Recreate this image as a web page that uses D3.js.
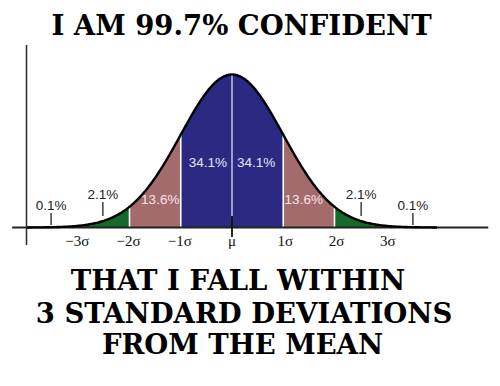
<!DOCTYPE html>
<html><head><meta charset="utf-8">
<script src="https://cdn.jsdelivr.net/npm/d3@7"></script>
<style>html,body{margin:0;padding:0;background:#fff;}svg{display:block;}</style>
</head><body>
<svg id="c" width="500" height="386"></svg>
<script>
// ---- data ----
const bandEdges = [-4, -3, -2, -1, 0, 1, 2, 3, 4];           // in sigma units
const bandKinds = ["tail", "tail", "two", "one", "one", "two", "tail", "tail"];
const pctLabels = ["0.1%", "2.1%", "13.6%", "34.1%", "34.1%", "13.6%", "2.1%", "0.1%"];
const pctPos = [-3.53, -2.52, -1.4, -0.47, 0.47, 1.4, 2.52, 3.53];
const tickValues = [-3, -2, -1, 0, 1, 2, 3];
const tickLabels = ["\u22123\u03c3", "\u22122\u03c3", "\u22121\u03c3", "\u03bc", "1\u03c3", "2\u03c3", "3\u03c3"];
const titleTop = ["I AM 99.7% CONFIDENT"];
const titleBottom = ["THAT I FALL WITHIN", "3 STANDARD DEVIATIONS", "FROM THE MEAN"];

const colors = {one: "#2b2a83", two: "#a36b6b", tail: "#14692d"};
const pdf = z => Math.exp(-z * z / 2) / Math.sqrt(2 * Math.PI);

const svg = d3.select("#c");
const x = d3.scaleLinear().domain([-4, 4]).range([27, 437]);
const y = d3.scaleLinear().domain([0, pdf(0)]).range([227.5, 74.5]);

const samples = d3.range(-4, 4.0001, 0.02);

// band fills
const area = d3.area().x(d => x(d)).y0(y(0)).y1(d => y(pdf(d))).curve(d3.curveLinear);
for (let i = 0; i < bandKinds.length; i++) {
  const a = bandEdges[i], b = bandEdges[i + 1];
  const pts = samples.filter(v => v >= a - 1e-9 && v <= b + 1e-9);
  svg.append("path").attr("d", area(pts)).attr("fill", colors[bandKinds[i]]);
}
// dividers
[-2, -1, 1, 2].forEach(v => {
  svg.append("line").attr("x1", x(v)).attr("x2", x(v))
    .attr("y1", y(0)).attr("y2", y(pdf(v)))
    .attr("stroke", "#ffffff").attr("stroke-width", 1.6);
});
svg.append("line").attr("x1", x(0)).attr("x2", x(0))
  .attr("y1", 216).attr("y2", y(pdf(0)))
  .attr("stroke", "#b9b9e2").attr("stroke-width", 1.6);

// axes
const xAxisScale = d3.scaleLinear().domain([-4.29, 5]).range([x(-4.29), x(5)]);
svg.append("line").attr("x1", xAxisScale.range()[0]).attr("x2", xAxisScale.range()[1])
  .attr("y1", y(0)).attr("y2", y(0)).attr("stroke", "#222").attr("stroke-width", 2);
svg.append("line").attr("x1", 26.5).attr("x2", 26.5)
  .attr("y1", 45).attr("y2", 245).attr("stroke", "#333").attr("stroke-width", 1.6);
// mu tick
svg.append("line").attr("x1", x(0)).attr("x2", x(0))
  .attr("y1", 216.5).attr("y2", 237).attr("stroke", "#111").attr("stroke-width", 1.8);

// curve
const line = d3.line().x(d => x(d)).y(d => y(pdf(d)));
svg.append("path").attr("d", line(samples)).attr("fill", "none")
  .attr("stroke", "#000").attr("stroke-width", 2.4);

// tick labels
svg.selectAll("text.tick").data(tickValues).join("text")
  .attr("class", "tick")
  .attr("x", (d, i) => x(d) + (d < 0 ? -1 : d > 0 ? 2 : 0))
  .attr("y", 246)
  .attr("text-anchor", "middle")
  .attr("font-family", "Liberation Serif, serif")
  .attr("font-size", 15)
  .attr("fill", "#111")
  .text((d, i) => tickLabels[i]);

// percentage labels
const pctBase = [209.5, 198.5, 204, 167, 167, 204, 198.5, 209.5];
pctLabels.forEach((t, i) => {
  const inside = bandKinds[i] !== "tail";
  svg.append("text").attr("x", x(pctPos[i])).attr("y", pctBase[i])
    .attr("text-anchor", "middle")
    .attr("font-family", "Liberation Sans, Arial, sans-serif")
    .attr("font-size", 13.5)
    .attr("fill", inside ? (bandKinds[i] === "one" ? "#e6e6f4" : "#f4e6e6") : "#222")
    .text(t);
  if (!inside) {
    const top = pctBase[i] + 3.5;
    const bot = i === 0 || i === 7 ? 225 : 216;
    svg.append("line").attr("x1", x(pctPos[i])).attr("x2", x(pctPos[i]))
      .attr("y1", top).attr("y2", bot).attr("stroke", "#222").attr("stroke-width", 1.3);
  }
});

// titles
svg.append("text").attr("x", 241.5).attr("y", 35).attr("text-anchor", "middle")
  .attr("font-family", "DejaVu Serif, serif").attr("font-weight", "bold")
  .attr("font-size", 27.5).attr("fill", "#000").text(titleTop[0]);
const bx = [238, 244, 242.5], by = [289.5, 323, 354];
titleBottom.forEach((t, i) => {
  svg.append("text").attr("x", bx[i]).attr("y", by[i]).attr("text-anchor", "middle")
    .attr("font-family", "DejaVu Serif, serif").attr("font-weight", "bold")
    .attr("font-size", 27.5).attr("fill", "#000").text(t);
});
</script>
</body></html>
